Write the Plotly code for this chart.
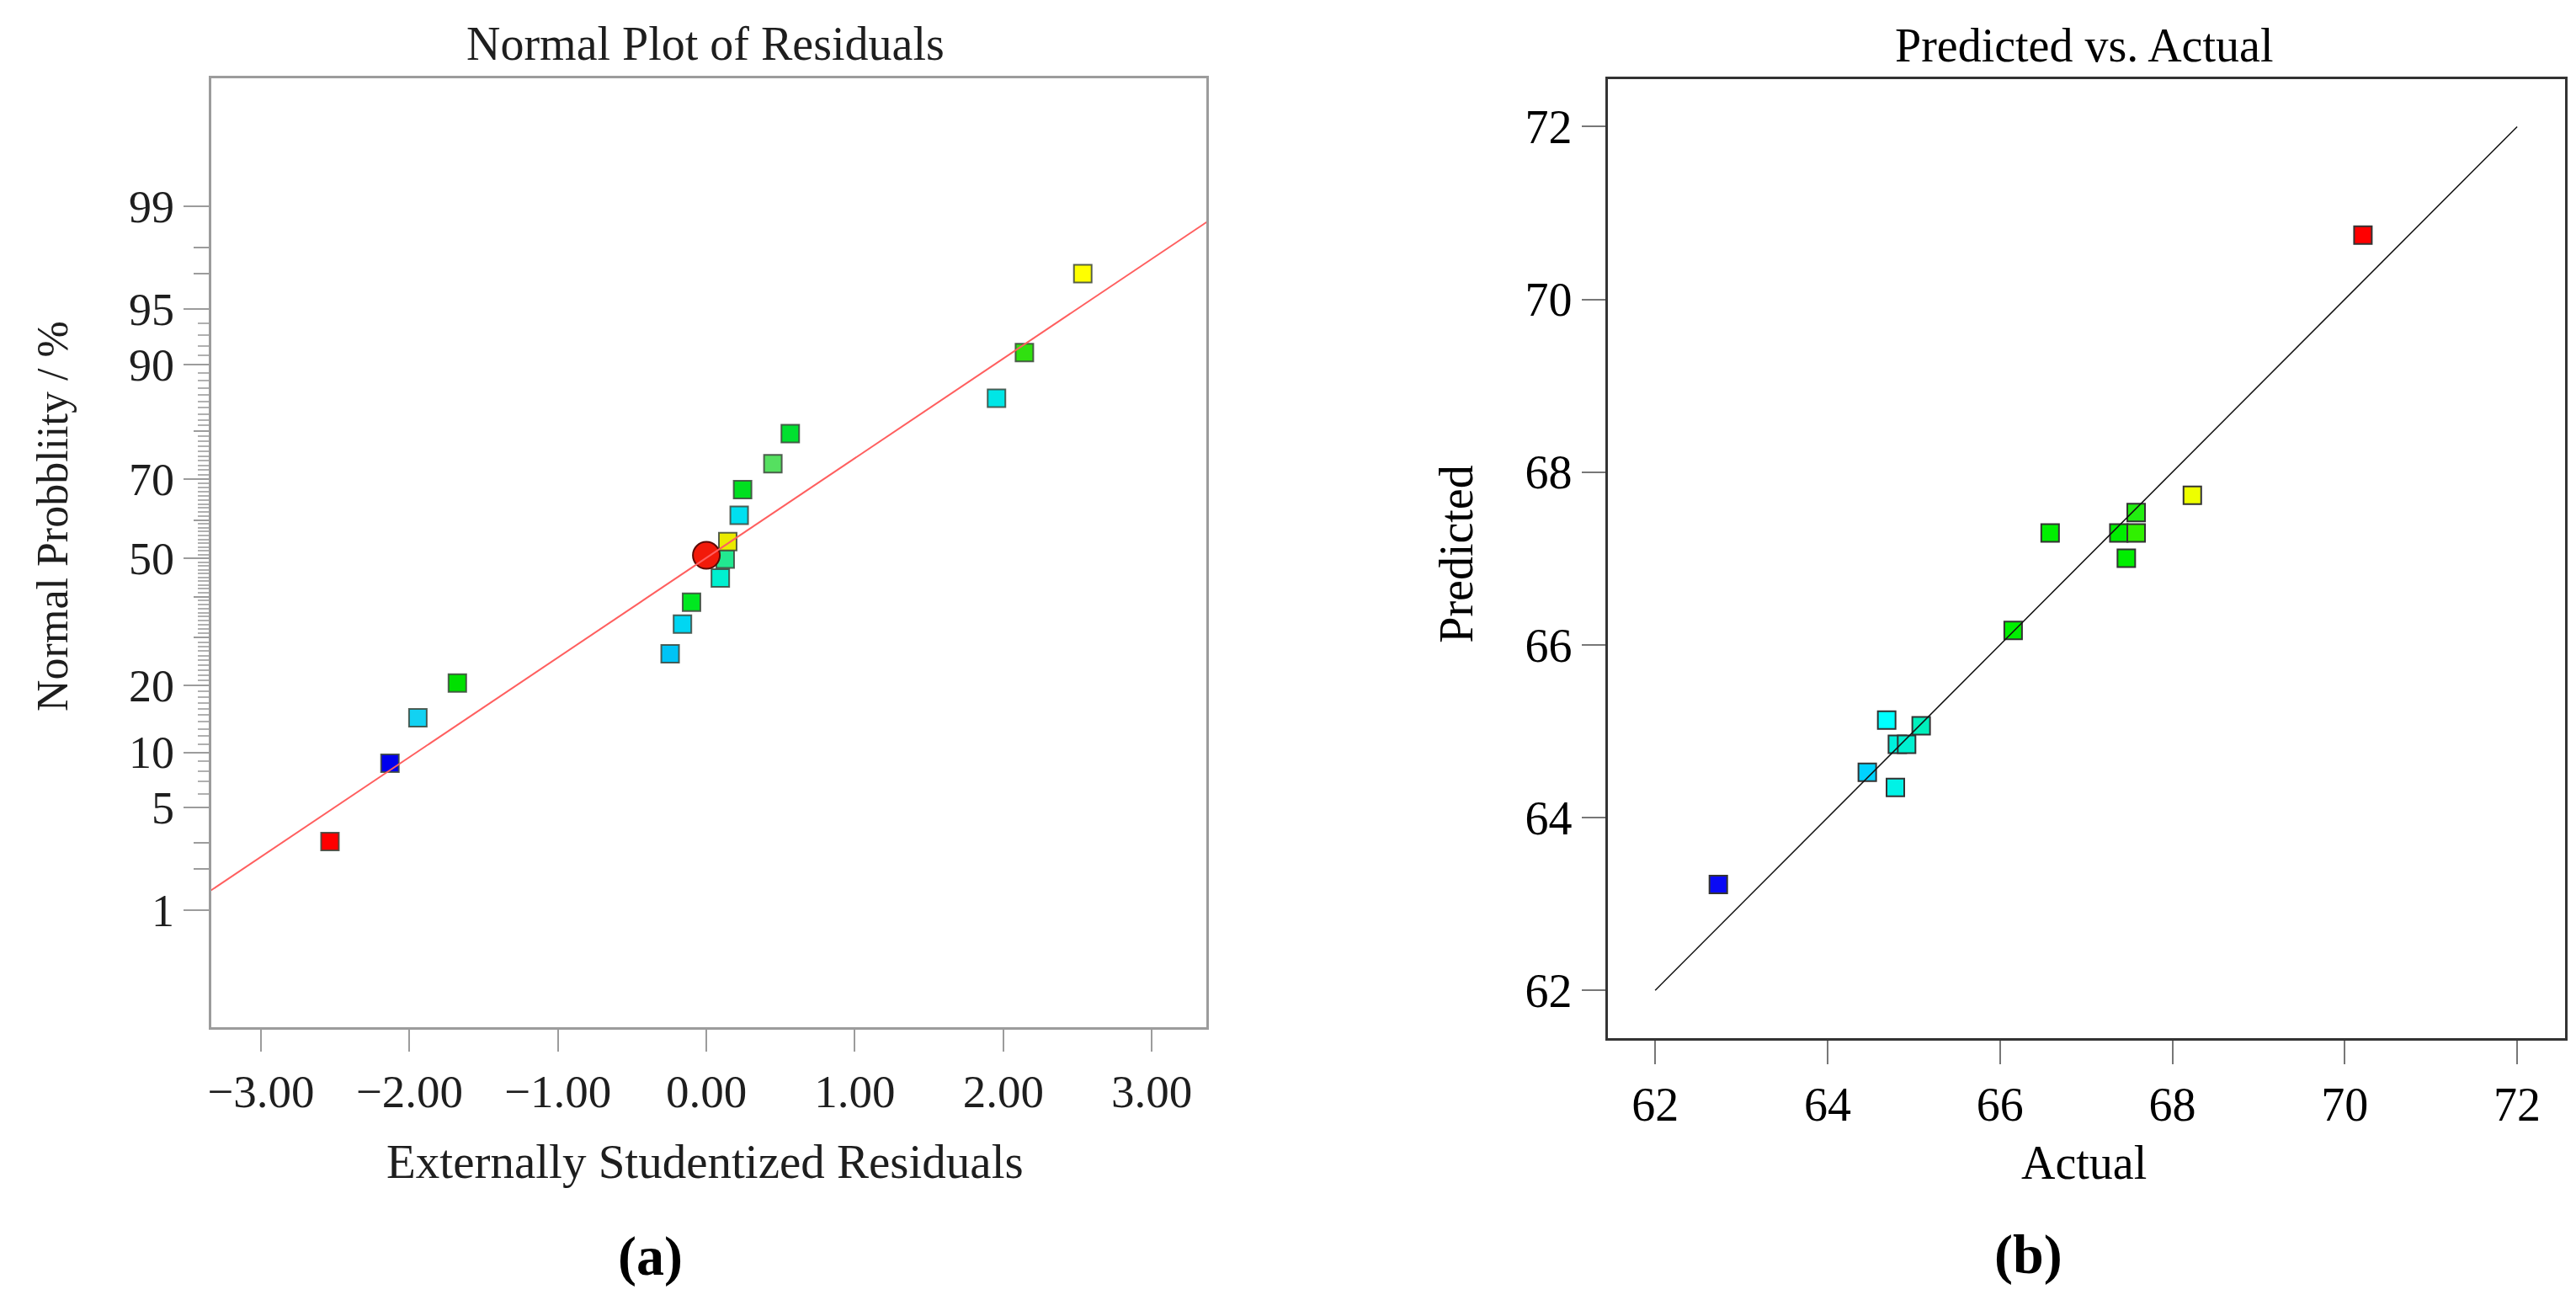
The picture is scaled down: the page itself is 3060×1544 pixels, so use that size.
from statistics import NormalDist
import plotly.graph_objects as go

W, H = 3060, 1544
FONT = "'Liberation Serif', 'Times New Roman', Times, serif"

# ---- (a) Normal plot of residuals ----
resid = [-2.535, -2.131, -1.943, -1.677, -0.244, -0.161, -0.100, 0.094, 0.127,
         0.144, 0.221, 0.244, 0.448, 0.565, 1.954, 2.142, 2.535]
resid_prob = [3.07, 8.8, 14.6, 20.5, 26.4, 33.2, 38.6, 44.8, 49.8,
              54.4, 61.2, 67.5, 73.4, 79.5, 85.5, 91.3, 97.0]
resid_colors = ["#ff0000", "#0000ee", "#12d2f2", "#00e000", "#00c4f6", "#00d6f2",
                "#00e820", "#00f0d0", "#22e890", "#eaea00", "#00e0f0", "#00e020",
                "#55e060", "#00e030", "#00e6e6", "#30e010", "#ffff00"]
center_resid = [0.0]
center_prob = [50.8]
fit_resid = [-3.4, 3.4]
fit_prob = [1.27, 98.75]

prob_ticks = [1, 5, 10, 20, 50, 70, 90, 95, 99]
prob_mid = [2, 3, 30, 40, 60, 80, 97, 98]
prob_small = [p for p in range(5, 96) if p not in prob_ticks + prob_mid]
resid_ticks = [-3, -2, -1, 0, 1, 2, 3]

# ---- (b) Predicted vs. Actual ----
actual = [62.733, 64.461, 64.686, 64.787, 64.810, 64.917, 65.086, 66.153,
          66.582, 67.379, 67.466, 67.580, 67.580, 68.232, 70.211]
predicted = [63.227, 64.524, 65.129, 64.349, 64.849, 64.849, 65.063, 66.168,
             67.295, 67.295, 67.003, 67.295, 67.532, 67.733, 70.744]
pv_colors = ["#0a0af5", "#00d2ff", "#00ffff", "#00f2e6", "#00f0dc", "#00f0d0",
             "#00f0bc", "#00f000", "#00f000", "#00ee00", "#00ee00", "#30f000",
             "#22ee10", "#eeff00", "#ff0000"]
ref_line = [62, 72]
pv_ticks = [62, 64, 66, 68, 70, 72]

z = NormalDist().inv_cdf


def zs(vals):
    return [z(p / 100.0) for p in vals]


fig = go.Figure()

# left panel
fig.add_trace(go.Scatter(
    x=resid, y=zs(resid_prob), mode="markers", xaxis="x", yaxis="y",
    marker=dict(symbol="square", size=21, color=resid_colors,
                line=dict(color="rgba(60,70,60,0.85)", width=2)),
    showlegend=False))
fig.add_trace(go.Scatter(
    x=center_resid, y=zs(center_prob), mode="markers", xaxis="x", yaxis="y",
    marker=dict(symbol="circle", size=32, color="#f21a0a",
                line=dict(color="#5a0a05", width=2)),
    showlegend=False))
fig.add_trace(go.Scatter(
    x=fit_resid, y=zs(fit_prob), mode="lines", xaxis="x", yaxis="y",
    line=dict(color="rgb(255,95,95)", width=2), showlegend=False))
# carrier for the medium probability ticks
fig.add_trace(go.Scatter(x=[None], y=[None], xaxis="x", yaxis="y3",
                         showlegend=False, hoverinfo="skip"))

# right panel
fig.add_trace(go.Scatter(
    x=actual, y=predicted, mode="markers", xaxis="x2", yaxis="y2",
    marker=dict(symbol="square", size=21, color=pv_colors,
                line=dict(color="#333333", width=2)),
    showlegend=False))
fig.add_trace(go.Scatter(
    x=ref_line, y=ref_line, mode="lines", xaxis="x2", yaxis="y2",
    line=dict(color="#111111", width=1.5), showlegend=False))

gray = "#9c9c9c"
y_range_a = [-3.099, 3.171]
left_dom_y = [1 - 1212.3 / H, 1 - 85 / H]

fig.update_layout(
    width=W, height=H,
    margin=dict(l=0, r=0, t=0, b=0),
    paper_bgcolor="white", plot_bgcolor="white",
    font=dict(family=FONT, color="#000"),
    xaxis=dict(
        domain=[239 / W, 1423 / W], range=[-3.336, 3.368], anchor="y",
        tickmode="array", tickvals=resid_ticks, tickformat=".2f",
        ticks="outside", ticklen=26, tickwidth=2, tickcolor=gray,
        showline=True, linecolor=gray, linewidth=3, mirror=True,
        showgrid=False, zeroline=False,
        tickfont=dict(family=FONT, size=55, color="#1e1e1e")),
    yaxis=dict(
        domain=left_dom_y, range=y_range_a, anchor="x",
        tickmode="array", tickvals=zs(prob_ticks),
        ticktext=[str(p) for p in prob_ticks],
        ticks="outside", ticklen=30, tickwidth=2, tickcolor=gray,
        minor=dict(tickmode="array", tickvals=zs(prob_small), ticks="outside",
                   ticklen=13, tickwidth=1.5, tickcolor="#b0b0b0", showgrid=False),
        showline=True, linecolor=gray, linewidth=3, mirror=True,
        showgrid=False, zeroline=False,
        tickfont=dict(family=FONT, size=54, color="#1e1e1e")),
    yaxis3=dict(
        overlaying="y", anchor="x", side="left", range=y_range_a,
        tickmode="array", tickvals=zs(prob_mid), ticks="outside",
        ticklen=20, tickwidth=2, tickcolor=gray, showticklabels=False,
        showline=False, showgrid=False, zeroline=False),
    xaxis2=dict(
        domain=[1900 / W, 3038.7 / W], range=[61.447, 72.553], anchor="y2",
        tickmode="array", tickvals=pv_ticks,
        ticks="outside", ticklen=28, tickwidth=2, tickcolor="#777777",
        showline=True, linecolor="#333333", linewidth=2.5, mirror=True,
        showgrid=False, zeroline=False,
        tickfont=dict(family=FONT, size=56, color="#000")),
    yaxis2=dict(
        domain=[1 - 1225 / H, 1 - 86 / H], range=[61.447, 72.55], anchor="x2",
        tickmode="array", tickvals=pv_ticks,
        ticks="outside", ticklen=28, tickwidth=2, tickcolor="#777777",
        showline=True, linecolor="#333333", linewidth=2.5, mirror=True,
        showgrid=False, zeroline=False,
        tickfont=dict(family=FONT, size=56, color="#000")),
)


def label(text, x, y, size, angle=0, color="#000", bold=False):
    fig.add_annotation(
        text=f"<b>{text}</b>" if bold else text,
        x=x / W, y=1 - y / H, xref="paper", yref="paper",
        xanchor="center", yanchor="middle", showarrow=False, textangle=angle,
        font=dict(family=FONT, size=size, color=color))


label("Normal Plot of Residuals", 827, 44, 56, color="#1e1e1e")
label("Externally Studentized Residuals", 827, 1371, 57, color="#1e1e1e")
label("Normal Probbliity / %", 50, 605, 52, angle=-90, color="#1e1e1e")
label("Predicted vs. Actual", 2467, 46, 56)
label("Actual", 2467, 1373, 56)
label("Predicted", 1720, 650, 56, angle=-90)
label("(a)", 761, 1484, 66, bold=True)
label("(b)", 2401, 1482, 66, bold=True)

fig.write_html("out.html")
